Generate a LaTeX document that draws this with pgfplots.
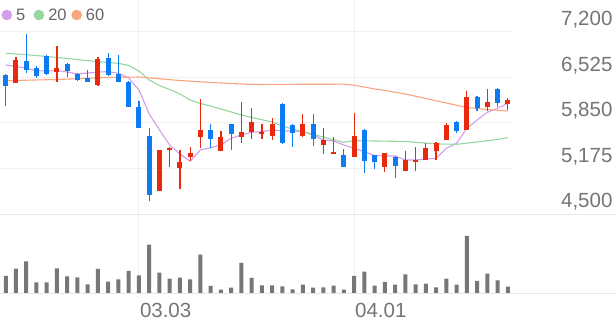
\documentclass[border=0pt]{standalone}
\usepackage{pgfplots}
\pgfplotsset{compat=1.18}
\usepackage{pgfplotstable}
\usepackage{fontspec}
\setmainfont{Liberation Sans}
\definecolor{cred}{HTML}{E8290E}
\definecolor{cblue}{HTML}{0D7CF2}
\definecolor{ma5}{HTML}{D59CEC}
\definecolor{ma20}{HTML}{96D6A0}
\definecolor{ma60}{HTML}{F9A57D}
\definecolor{volc}{HTML}{777777}
\definecolor{gridc}{HTML}{F0F0F0}
\definecolor{sepc}{HTML}{E6E6E6}
\definecolor{labc}{HTML}{757575}
\definecolor{legc}{HTML}{666666}

\pgfplotstableread{
i O H L C
1 6440 6820 6440 6780
5 6600 6990 6460 6670
9 6410 6820 6400 6790
15 4840 5450 4840 5450
16 5450 5500 5200 5480
17 5190 5450 4880 5270
18 5340 5490 5290 5400
19 5650 6200 5480 5740
21 5440 5730 5430 5650
23 5650 6160 5550 5710
24 5710 6070 5610 5870
25 5690 5830 5610 5710
26 5660 5930 5600 5830
29 5660 5980 5650 5840
31 5520 5770 5390 5600
32 5390 5650 5390 5420
34 5350 6000 5350 5660
37 5200 5410 5130 5400
39 5140 5440 5140 5310
40 5270 5490 5140 5300
41 5300 5560 5300 5480
42 5440 5570 5300 5560
43 5600 5850 5600 5820
45 5750 6330 5750 6240
47 6080 6350 6020 6160
49 6130 6220 6040 6190
}\redtab

\pgfplotstableread{
i O H L C
0 6560 6580 6100 6400
2 6760 7160 6590 6640
3 6660 6700 6520 6540
4 6840 6860 6560 6580
6 6720 6730 6530 6620
7 6580 6590 6470 6490
8 6510 6630 6460 6460
10 6810 6880 6550 6560
11 6570 6860 6450 6450
12 6460 6470 6090 6090
13 6090 6180 5770 5780
14 5660 5780 4690 4790
20 5740 5840 5480 5620
22 5830 5840 5450 5690
27 6130 6140 5540 5560
28 5820 5840 5500 5700
30 5840 5980 5510 5610
33 5370 5470 5200 5200
35 5750 5760 5110 5290
36 5370 5380 5170 5270
38 5350 5360 5030 5220
44 5870 5880 5700 5730
46 6240 6250 6030 6070
48 6360 6370 6090 6140
}\bluetab

\pgfplotstableread{
i v
0 6708
1 6685
2 6659
3 6623
4 6619
5 6623
6 6604
7 6575
8 6589
9 6604
10 6609
11 6585
12 6515
13 6338
14 5983
15 5747
16 5525
17 5392
18 5284
19 5451
20 5485
21 5525
22 5624
23 5673
24 5713
25 5721
26 5747
27 5732
28 5732
29 5721
30 5673
31 5599
32 5584
33 5525
34 5476
35 5426
36 5367
37 5362
38 5362
39 5303
40 5303
41 5318
42 5328
43 5476
44 5550
45 5772
46 5894
47 6008
48 6067
49 6141
}\mafive

\pgfplotstableread{
i v
0 6881
3 6848
6 6804
9 6756
11 6733
12 6700
13 6619
14 6486
15 6405
16 6345
17 6279
18 6190
19 6138
20 6101
21 6057
22 6013
23 5968
24 5931
26 5865
27 5806
28 5761
29 5724
30 5680
31 5643
32 5599
33 5565
34 5588
36 5584
39 5577
42 5540
44 5535
46 5569
48 5606
49 5633
}\matwenty

\pgfplotstableread{
i v
0 6476
5 6493
10 6523
13 6530
17 6478
20 6449
24 6419
28 6422
33 6424
34 6409
36 6353
37 6331
39 6279
41 6212
43 6146
45 6079
47 6050
49 6027
}\masixty

\pgfplotstableread{
i v
0 17700
1 25000
2 32300
3 11300
4 11300
5 25300
6 17300
7 16300
8 9300
9 24700
10 12000
11 14300
12 22700
13 18300
14 49000
15 21000
16 15000
17 16000
18 14300
19 39000
20 7700
21 4000
22 6000
23 30700
24 15700
25 8300
26 8300
27 7300
28 4300
29 9000
30 6000
31 6300
32 8000
33 4000
34 17700
35 22000
36 8000
37 11700
38 9000
39 19300
40 9300
41 10000
42 6300
43 15000
44 9000
45 57700
46 12700
47 20000
48 13300
49 7000
}\voltab

\begin{document}
\begin{tikzpicture}
\useasboundingbox (0pt,0pt) rectangle (616pt,321pt);
\fill[white] (0pt,0pt) rectangle (616pt,321pt);

\begin{axis}[
  at={(0pt,106.7pt)}, anchor=south west, scale only axis,
  width=511.7pt, height=214.3pt,
  xmin=-0.5612, xmax=49.38, ymin=4500, ymax=7668.7,
  axis line style={draw=none}, tick style={draw=none},
  xtick={13,34}, xticklabels={},
  ytick={4500,5175,5850,6525,7200},
  yticklabels={{4,500},{5,175},{5,850},{6,525},{7,200}},
  yticklabel pos=right,
  yticklabel style={anchor=base east, inner sep=0pt, xshift=100.9pt, yshift=6.3pt,
    font=\fontsize{20.5}{20.5}\selectfont, text=labc},
  grid=major, major grid style={draw=gridc, line width=1pt},
  legend columns=3,
  legend cell align=left,
  legend image code/.code={\fill[#1] (4.7pt,0pt) circle (4.7pt);},
  legend style={at={(0.0031,0.930)}, anchor=west, draw=none, fill=none,
    inner sep=0pt, outer sep=0pt, font=\fontsize{16.5}{16.5}\selectfont, text=legc,
    nodes={inner sep=0pt, text depth=0pt},
    /tikz/column 1/.style={column sep=4pt},
    /tikz/column 2/.style={column sep=8.4pt},
    /tikz/column 3/.style={column sep=4.1pt},
    /tikz/column 4/.style={column sep=4.85pt},
    /tikz/column 5/.style={column sep=3.9pt}},
]
\addplot[color=ma5, line width=1.1pt, mark=none] table[x=i,y=v] {\mafive};
\addlegendentry{5}
\addplot[color=ma20, line width=1.1pt, mark=none] table[x=i,y=v] {\matwenty};
\addlegendentry{20}
\addplot[color=ma60, line width=1.1pt, mark=none] table[x=i,y=v] {\masixty};
\addlegendentry{60}

% red candles
\addplot[draw=none, mark=none, forget plot,
  error bars/.cd, y dir=plus, y explicit, error mark=none,
  error bar style={draw=cred, line width=1.2pt}]
  table[x=i, y=L, y error plus expr=\thisrow{H}-\thisrow{L}] {\redtab};
\addplot[draw=none, mark=none, forget plot,
  error bars/.cd, y dir=plus, y explicit, error mark=none,
  error bar style={draw=cred, line width=5pt}]
  table[x=i, y=O, y error plus expr=\thisrow{C}-\thisrow{O}] {\redtab};
% blue candles
\addplot[draw=none, mark=none, forget plot,
  error bars/.cd, y dir=plus, y explicit, error mark=none,
  error bar style={draw=cblue, line width=1.2pt}]
  table[x=i, y=L, y error plus expr=\thisrow{H}-\thisrow{L}] {\bluetab};
\addplot[draw=none, mark=none, forget plot,
  error bars/.cd, y dir=plus, y explicit, error mark=none,
  error bar style={draw=cblue, line width=5pt}]
  table[x=i, y=C, y error plus expr=\thisrow{O}-\thisrow{C}] {\bluetab};
\end{axis}

\begin{axis}[
  at={(0pt,27.4pt)}, anchor=south west, scale only axis,
  width=511.7pt, height=79.3pt,
  xmin=-0.5612, xmax=49.38, ymin=0, ymax=79300,
  axis line style={draw=none}, tick style={draw=none},
  xtick={13,34}, xticklabels={03.03,04.01},
  xticklabel style={anchor=base west, inner sep=0pt, xshift=0.85pt, yshift=-24.2pt,
    font=\fontsize{20.5}{20.5}\selectfont, text=labc},
  ytick=\empty,
  xmajorgrids, major grid style={draw=gridc, line width=1pt},
]
\addplot[ybar, bar width=4pt, bar shift=0pt, fill=volc, draw=none] table[x=i,y=v] {\voltab};
\end{axis}

\draw[sepc, line width=1.2pt] (0pt,106.7pt) -- (616pt,106.7pt);
\draw[sepc, line width=1pt] (0pt,27.4pt) -- (616pt,27.4pt);
\end{tikzpicture}
\end{document}
